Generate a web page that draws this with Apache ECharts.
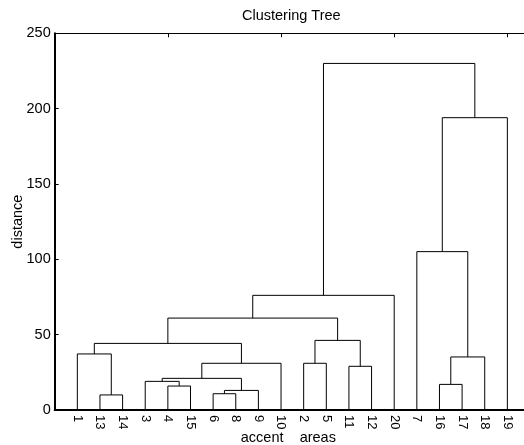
<!DOCTYPE html>
<html>
<head>
<meta charset="utf-8">
<script src="https://cdn.jsdelivr.net/npm/echarts@6/dist/echarts.min.js"></script>
<style>html,body{margin:0;padding:0;background:#fff;}#c{width:524px;height:445px;}</style>
</head>
<body>
<div id="c"></div>
<script>
// Leaf labels in dendrogram order (positions 1..20)
const leafOrder = [1,13,14,3,4,15,6,8,9,10,2,5,11,12,20,7,16,17,18,19];
// Merges: new cluster ids 21..39 in order
const mergeLeft   = [13, 6, 22, 4, 16, 3, 26, 11, 2, 27, 25, 1, 32, 29, 33, 35, 7, 37, 36];
const mergeRight  = [14, 8, 9, 15, 17, 24, 23, 12, 5, 10, 18, 21, 30, 28, 34, 20, 31, 19, 38];
const mergeHeight = [10, 10.8, 13, 15.9, 17, 19, 21, 29, 31, 31, 35.2, 37.2, 44.2, 46.2, 61, 76.1, 105.1, 194, 230];
const yTicks = [0, 50, 100, 150, 200, 250];

const nLeaves = leafOrder.length;
const posX = {}, posH = {};
leafOrder.forEach((lab, i) => { posX[lab] = i + 1; posH[lab] = 0; });
const links = [];
mergeLeft.forEach((a, i) => {
  const b = mergeRight[i], h = mergeHeight[i], id = nLeaves + 1 + i;
  links.push({ coords: [[posX[a], posH[a]], [posX[a], h], [posX[b], h], [posX[b], posH[b]]] });
  posX[id] = (posX[a] + posX[b]) / 2;
  posH[id] = h;
});

const FONT = 'Liberation Sans';
const chart = echarts.init(document.getElementById('c'), null, { renderer: 'canvas' });
chart.setOption({
  animation: false,
  backgroundColor: '#fff',
  title: {
    text: 'Clustering Tree', left: 242, top: 8, padding: 0,
    textStyle: { fontFamily: FONT, fontSize: 14.5, fontWeight: 'normal', color: '#000' }
  },
  grid: { left: 54.7, right: -6, top: 33.3, bottom: 35, containLabel: false, outerBoundsMode: 'none' },
  xAxis: [{
    type: 'value', position: 'bottom', min: 0, max: nLeaves + 1, interval: 1,
    name: 'accent    areas', nameLocation: 'middle', nameGap: 20, nameMoveOverlap: false,
    nameTextStyle: { fontFamily: FONT, fontSize: 14.5, color: '#000', padding: [0, 8, 0, 0] },
    axisLine: { show: true, lineStyle: { color: '#000', width: 2 } },
    axisTick: { show: false },
    splitLine: { show: false },
    axisLabel: {
      rotate: -90, margin: 5, fontFamily: FONT, fontSize: 13, color: '#000',
      showMinLabel: true, showMaxLabel: true,
      formatter: v => (v >= 1 && v <= nLeaves && Number.isInteger(v)) ? String(leafOrder[v - 1]) : ''
    }
  }, {
    type: 'value', position: 'top', min: 0, max: nLeaves + 1, interval: 5,
    axisLine: { show: true, lineStyle: { color: '#000', width: 1.2 } },
    axisTick: { show: true, inside: true, length: 4, lineStyle: { color: '#000' } },
    axisLabel: { show: false },
    splitLine: { show: false }
  }],
  yAxis: {
    type: 'value', min: yTicks[0], max: yTicks[yTicks.length - 1], interval: 50,
    name: 'distance', nameLocation: 'middle', nameGap: 29, nameMoveOverlap: false,
    nameTextStyle: { fontFamily: FONT, fontSize: 14.5, color: '#000' },
    axisLine: { show: true, lineStyle: { color: '#000', width: 2 } },
    axisTick: { show: true, inside: true, length: 4, lineStyle: { color: '#000' } },
    splitLine: { show: false },
    axisLabel: { margin: 4, fontFamily: FONT, fontSize: 14.5, color: '#000' }
  },
  series: [{
    type: 'lines', coordinateSystem: 'cartesian2d', xAxisIndex: 0, yAxisIndex: 0,
    polyline: true, silent: true,
    lineStyle: { color: '#000', width: 1, opacity: 1 },
    data: links
  }]
});
</script>
</body>
</html>
